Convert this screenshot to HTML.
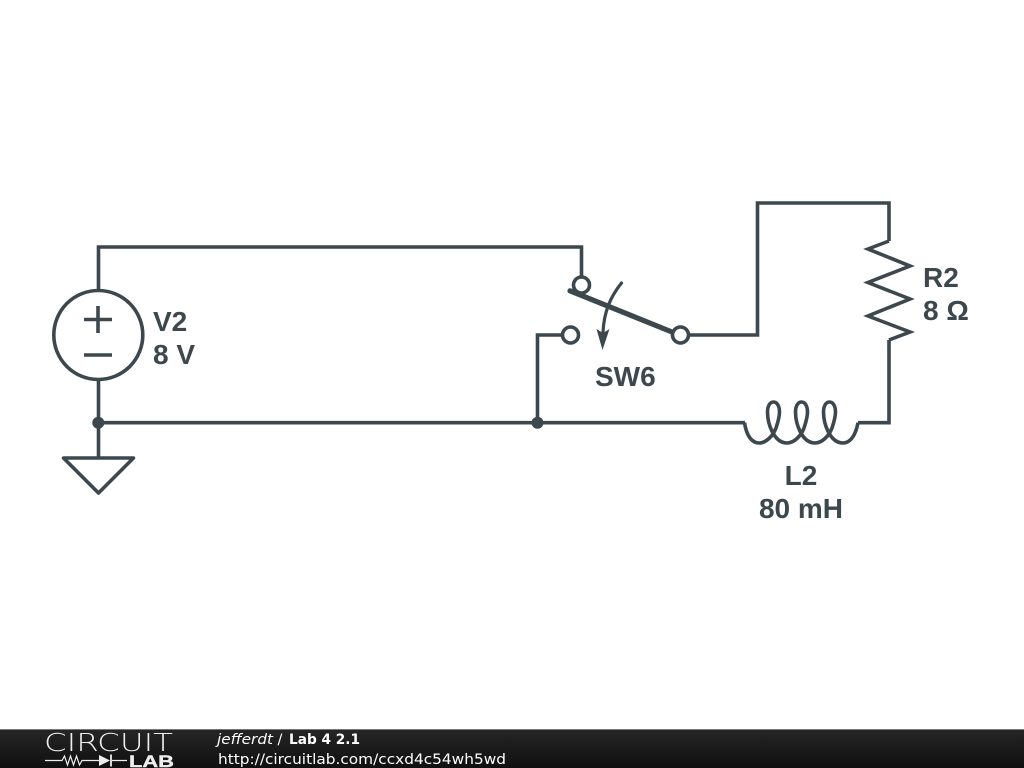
<!DOCTYPE html>
<html>
<head>
<meta charset="utf-8">
<style>
html,body{margin:0;padding:0;background:#fff;width:1024px;height:768px;overflow:hidden}
svg{display:block}
</style>
</head>
<body>
<svg width="1024" height="768" viewBox="0 0 1024 768" xmlns="http://www.w3.org/2000/svg">
<defs>
<linearGradient id="bar" x1="0" y1="0" x2="0" y2="1">
<stop offset="0" stop-color="#262626"/>
<stop offset="1" stop-color="#101010"/>
</linearGradient>
</defs>
<rect width="1024" height="768" fill="#fff"/>
<g fill="none" stroke="#3d474e" stroke-width="3.6" stroke-linejoin="miter" stroke-linecap="butt">
<!-- wires -->
<path d="M98.500,291V247H581.500V277"/>
<path d="M98.500,379V458"/>
<path d="M98,422.700H745"/>
<path d="M537.500,422.700V335H562"/>
<path d="M689,335H757.500V203H889V241"/>
<path d="M889,340V422.700H858"/>
<!-- source -->
<circle cx="98.300" cy="335" r="44.500"/>
<path d="M84,319.500H112M98,306V333M84,355H112"/>
<!-- ground -->
<path d="M63.500,458H133.500L98.500,493Z" stroke-linejoin="round"/>
<!-- resistor -->
<path d="M889,241L868,249L910,266L868,282.500L910,299L868,316L910,332L889,340" stroke-linejoin="miter"/>
<!-- inductor -->
<path d="M744.500,422.700C746.500,436 752,443 759,443C766,443 773,436 776,428C778,422 779.500,417 779.500,412C779.500,406 777,402 773.500,402C770,402 767.500,406 767.500,412C767.500,424 774,443 787,443C794,443 801,436 804,428C806,422 807.500,417 807.500,412C807.500,406 805,402 801.500,402C798,402 795.500,406 795.500,412C795.500,424 802,443 815,443C822,443 829,436 832,428C834,422 835.500,417 835.500,412C835.500,406 833,402 829.500,402C826,402 823.500,406 823.500,412C823.500,424 830,443 843,443C850,443 855.500,436 858,422.700"/>
<!-- switch arm -->
<path d="M570,290.800L672,332" stroke-width="5.200" stroke-linecap="round"/>
<!-- switch motion arrow -->
<path d="M621.500,283C611,296 604,311 603,332" stroke-width="3.200" stroke-linecap="round"/>
</g>
<path d="M596.500,329L603,333L609.500,329L602.500,350Z" fill="#3d474e"/>
<g fill="#fff" stroke="#3d474e" stroke-width="3.600">
<circle cx="581.500" cy="285" r="8"/>
<circle cx="570.500" cy="335" r="8"/>
<circle cx="680.500" cy="335" r="8"/>
</g>
<g fill="#3d474e">
<circle cx="98.300" cy="422.700" r="6"/>
<circle cx="537.500" cy="422.700" r="6"/>
</g>
<g font-family="'Liberation Sans',sans-serif" font-weight="700" font-size="28" fill="#3d474e">
<text x="153" y="331">V2</text>
<text x="153" y="364">8 V</text>
<text x="923" y="287">R2</text>
<text x="923" y="320">8 Ω</text>
<text x="595" y="386">SW6</text>
<text x="801" y="485" text-anchor="middle">L2</text>
<text x="801" y="518" text-anchor="middle">80 mH</text>
</g>
<!-- footer -->
<rect x="0" y="729" width="1024" height="39" fill="url(#bar)"/>
<rect x="0" y="729" width="1024" height="1" fill="#777"/>
<text x="44" y="751" font-family="'DejaVu Sans',sans-serif" font-weight="200" font-size="24.500" fill="#eee" textLength="129" lengthAdjust="spacingAndGlyphs">CIRCUIT</text>
<path d="M45,760.500H62L64.500,756L67.500,765L70.500,756L73.500,765L76.500,756L79.500,765L82,760.500H99M112,760.500H127" fill="none" stroke="#eee" stroke-width="1.200"/>
<path d="M99,755L110,760.500L99,766Z" fill="#eee"/>
<path d="M111,754.500V766.500" stroke="#eee" stroke-width="1.800"/>
<text x="129" y="767" font-family="'Liberation Sans',sans-serif" font-size="17" font-weight="700" fill="#eee" stroke="#eee" stroke-width="0.400" textLength="45" lengthAdjust="spacingAndGlyphs">LAB</text>
<g font-family="'DejaVu Sans',sans-serif" font-size="14.500" fill="#fff">
<text x="217" y="744" font-style="italic" textLength="56" lengthAdjust="spacingAndGlyphs">jefferdt</text>
<text x="277.500" y="744">/</text>
<text x="289" y="744" font-weight="700" textLength="71" lengthAdjust="spacingAndGlyphs">Lab 4 2.1</text>
<text x="218" y="764" textLength="288" lengthAdjust="spacingAndGlyphs">http://circuitlab.com/ccxd4c54wh5wd</text>
</g>
</svg>
</body>
</html>
